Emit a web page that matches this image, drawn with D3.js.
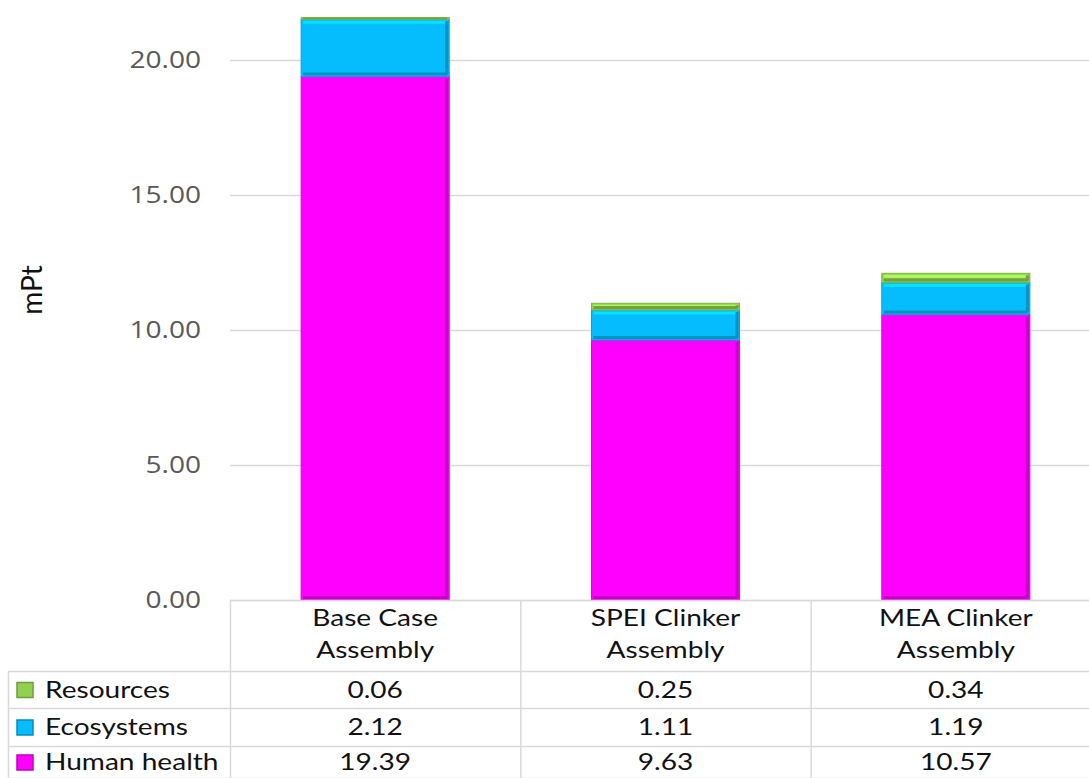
<!DOCTYPE html>
<html lang="en">
<head>
<meta charset="UTF-8">
<title>mPt stacked chart</title>
<script src="https://d3js.org/d3.v7.min.js"></script>
<style>
  body { margin: 0; background: #fff; }
  svg { display: block; }
  .tick_label { font-family: "Open Sans", sans-serif; font-size: 24px; fill: #595959; }
  .table_text { font-family: Lato, sans-serif; font-size: 24px; fill: #111; }
</style>
</head>
<body>
<svg width="1089" height="778"></svg>
<script>
  // data
  const categories = ["Base Case Assembly", "SPEI Clinker Assembly", "MEA Clinker Assembly"];
  const categoryLines = [["Base Case", "Assembly"], ["SPEI Clinker", "Assembly"], ["MEA Clinker", "Assembly"]];
  const seriesNames = ["Human health", "Ecosystems", "Resources"];
  const humanHealth = [19.39, 9.63, 10.57];
  const ecosystems = [2.12, 1.11, 1.19];
  const resources = [0.06, 0.25, 0.34];
  const yTicks = [0, 5, 10, 15, 20];
  const colors = { "Human health": "#ff00ff", "Ecosystems": "#05bcfd", "Resources": "#92d050" };

  const svg = d3.select("svg");
  const gridColor = "#d9d9d9";
  const sx = 1.17; // text in the original is a bit stretched sideways

  function place(px, py) {
    return `translate(${px},${py}) scale(${sx},1)`;
  }

  const rows = categories.map((c, i) => ({
    category: c,
    "Human health": humanHealth[i],
    "Ecosystems": ecosystems[i],
    "Resources": resources[i]
  }));

  const y = d3.scaleLinear().domain([0, 20]).range([600, 60]);
  const x = d3.scaleBand().domain(categories).range([230, 1101]);
  const barW = x.bandwidth() * 0.51;

  // gridlines + tick labels
  svg.append("g").selectAll("line").data(yTicks).join("line")
    .attr("x1", 230).attr("x2", 1089)
    .attr("y1", d => y(d) + 0.5).attr("y2", d => y(d) + 0.5)
    .attr("stroke", gridColor).attr("stroke-width", 1.5);

  svg.append("g").selectAll("text").data(yTicks).join("text")
    .attr("class", "tick_label")
    .attr("transform", d => place(201, y(d)))
    .attr("text-anchor", "end").attr("dy", "0.35em")
    .text(d3.format(".2f"));

  svg.append("text")
    .attr("transform", "translate(42,290) rotate(-90)")
    .attr("text-anchor", "middle")
    .style("font-family", "Lato, sans-serif").style("font-size", "28px").style("fill", "#111")
    .text("mPt");

  // stacked bars
  const stacked = d3.stack().keys(seriesNames)(rows);

  const layer = svg.append("g").selectAll("g").data(stacked).join("g");
  const seg = layer.selectAll("g").data(s => s.map(d => ({ key: s.key, d: d }))).join("g")
    .attr("transform", p => `translate(${x(p.d.data.category) + (x.bandwidth() - barW) / 2},${y(p.d[1])})`);

  seg.append("rect")
    .attr("width", barW)
    .attr("height", p => y(p.d[0]) - y(p.d[1]))
    .attr("fill", p => colors[p.key])
    .attr("stroke", p => d3.color(colors[p.key]).darker(0.4))
    .attr("stroke-width", 1);

  // bevel look: light top edge, dark bottom / right edges
  seg.append("rect")
    .attr("x", 2).attr("y", 1.5)
    .attr("width", barW - 4)
    .attr("height", p => Math.min(3, Math.max(0, y(p.d[0]) - y(p.d[1]) - 3)))
    .attr("fill", p => d3.color(colors[p.key]).brighter(0.5));
  seg.append("rect")
    .attr("x", barW - 4).attr("y", 2)
    .attr("width", 3)
    .attr("height", p => Math.max(0, y(p.d[0]) - y(p.d[1]) - 4))
    .attr("fill", p => d3.color(colors[p.key]).darker(0.7));
  seg.append("rect")
    .attr("x", 2)
    .attr("y", p => Math.max(0, y(p.d[0]) - y(p.d[1]) - 4))
    .attr("width", barW - 4)
    .attr("height", p => Math.min(3, y(p.d[0]) - y(p.d[1])))
    .attr("fill", p => d3.color(colors[p.key]).darker(0.7));

  // data table
  const rowY = [600, 671, 708, 746, 778];
  const tableRows = ["Resources", "Ecosystems", "Human health"];
  const tableValues = { "Resources": resources, "Ecosystems": ecosystems, "Human health": humanHealth };
  const tg = svg.append("g");

  // horizontal lines
  tg.append("line").attr("x1", 230).attr("x2", 1089).attr("y1", rowY[0] + 0.5).attr("y2", rowY[0] + 0.5)
    .attr("stroke", gridColor).attr("stroke-width", 1.5);
  tg.selectAll("line.h").data(rowY.slice(1)).join("line").attr("class", "h")
    .attr("x1", 8).attr("x2", 1089)
    .attr("y1", d => d + 0.5).attr("y2", d => d + 0.5)
    .attr("stroke", gridColor).attr("stroke-width", 1.5);
  // vertical lines
  tg.append("line").attr("x1", 8.5).attr("x2", 8.5).attr("y1", rowY[1]).attr("y2", 778)
    .attr("stroke", gridColor).attr("stroke-width", 1.5);
  tg.selectAll("line.v").data(categories).join("line").attr("class", "v")
    .attr("x1", d => x(d) + 0.5).attr("x2", d => x(d) + 0.5)
    .attr("y1", rowY[0]).attr("y2", 778)
    .attr("stroke", gridColor).attr("stroke-width", 1.5);

  // header
  categories.forEach((c, i) => {
    tg.append("g").selectAll("text").data(categoryLines[i]).join("text")
      .attr("class", "table_text")
      .attr("transform", (d, j) => place(x(c) + x.bandwidth() / 2, 618 + j * 32))
      .attr("text-anchor", "middle").attr("dy", "0.35em")
      .text(d => d);
  });

  // body rows
  tableRows.forEach((name, r) => {
    const cy = (rowY[r + 1] + rowY[r + 2]) / 2;
    const base = colors[name];
    tg.append("rect").attr("x", 17).attr("y", cy - 7).attr("width", 16).attr("height", 15)
      .attr("fill", base).attr("stroke", d3.color(base).darker(0.8)).attr("stroke-width", 1.5);
    tg.append("text").attr("class", "table_text")
      .attr("transform", place(45, cy)).attr("dy", "0.35em")
      .text(name);
    tg.append("g").selectAll("text").data(tableValues[name]).join("text")
      .attr("class", "table_text")
      .attr("transform", (d, i) => place(x(categories[i]) + x.bandwidth() / 2, cy))
      .attr("text-anchor", "middle").attr("dy", "0.35em")
      .text(d => d3.format(".2f")(d));
  });
</script>
</body>
</html>
